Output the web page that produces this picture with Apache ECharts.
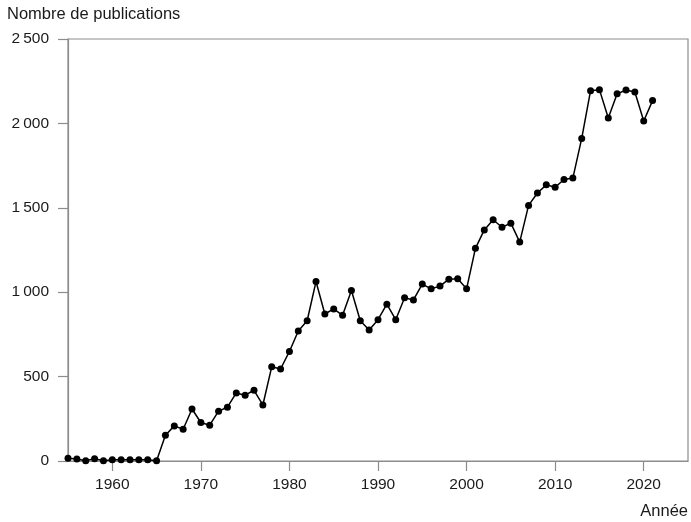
<!DOCTYPE html>
<html><head><meta charset="utf-8">
<script src="https://cdn.jsdelivr.net/npm/echarts@6/dist/echarts.min.js"></script>
<style>html,body{margin:0;padding:0;background:#fff}#c{width:691px;height:522px}</style>
</head><body><div id="c"></div>
<script>
const years = [];
for (let y = 1955; y <= 2021; y++) years.push(y);
const publications = [
  16, 12, 2, 14, 2, 8, 8, 8, 8, 8,
  2, 153, 208, 188, 308, 228, 212, 295, 319, 403,
  390, 419, 332, 558, 545, 649, 770, 831, 1063, 871,
  901, 863, 1010, 831, 776, 837, 929, 837, 967, 954,
  1048, 1020, 1036, 1077, 1079, 1020, 1260, 1369, 1429, 1385,
  1409, 1297, 1514, 1588, 1636, 1622, 1668, 1676, 1911, 2194,
  2200, 2032, 2175, 2198, 2186, 2014, 2135
];
const xTicks = [1960, 1970, 1980, 1990, 2000, 2010, 2020];
const yTicks = [0, 500, 1000, 1500, 2000, 2500];
const xTitle = 'Année';
const yTitle = 'Nombre de publications';

const fmt = v => { const s = String(v); return s.length > 3 ? s.slice(0, -3) + '\u2009' + s.slice(-3) : s; };
const chart = echarts.init(document.getElementById('c'));
const frame = '#8c8c8c';
const font = 'Liberation Sans, Arial, sans-serif';
chart.setOption({
  animation: false,
  grid: { left: 68, right: 3, top: 39, bottom: 61, show: true, borderColor: frame, borderWidth: 1.2, backgroundColor: 'transparent' },
  xAxis: {
    type: 'value', min: 1955, max: 2025,
    axisLine: { show: true, lineStyle: { color: frame, width: 1.2 } },
    axisTick: { show: true, length: 10, customValues: xTicks, lineStyle: { color: frame, width: 1.2 } },
    axisLabel: { customValues: xTicks, color: '#1a1a1a', fontSize: 15.5, fontFamily: font, margin: 16, formatter: v => String(v) },
    splitLine: { show: false }
  },
  yAxis: {
    type: 'value', min: 0, max: 2500, interval: 500,
    axisLine: { show: true, lineStyle: { color: frame, width: 1.2 } },
    axisTick: { show: true, length: 10, customValues: yTicks, lineStyle: { color: frame, width: 1.2 } },
    axisLabel: { customValues: yTicks, color: '#1a1a1a', fontSize: 15.5, fontFamily: font, margin: 19, formatter: fmt },
    splitLine: { show: false }
  },
  graphic: [
    { type: 'text', left: 7, top: 6, style: { text: yTitle, fontSize: 16.5, fontFamily: font, fill: '#1a1a1a' } },
    { type: 'text', right: 3, top: 503, style: { text: xTitle, fontSize: 16.5, fontFamily: font, fill: '#1a1a1a' } }
  ],
  series: [{
    type: 'line',
    data: years.map((y, i) => [y, publications[i]]),
    symbol: 'circle', symbolSize: 7,
    lineStyle: { color: '#000', width: 1.5 },
    itemStyle: { color: '#000' }
  }]
});
</script></body></html>
